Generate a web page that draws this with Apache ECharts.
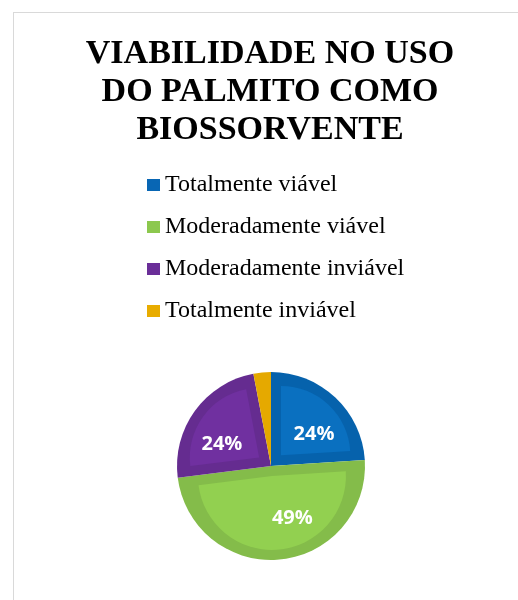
<!DOCTYPE html>
<html>
<head>
<meta charset="utf-8">
<script src="https://cdn.jsdelivr.net/npm/echarts@6/dist/echarts.min.js"></script>
<style>
html,body{margin:0;padding:0;background:#fff;overflow:hidden;}
#frame{position:absolute;left:13px;top:12px;width:520px;height:600px;border:1px solid #d9d9d9;box-sizing:border-box;}
#chart{position:absolute;left:0;top:0;width:540px;height:600px;}
</style>
</head>
<body>
<div id="frame"></div>
<div id="chart"></div>
<script>
// ---- data ----
var titleText = 'VIABILIDADE NO USO\nDO PALMITO COMO\nBIOSSORVENTE';
var categories = ['Totalmente viável', 'Moderadamente viável', 'Moderadamente inviável', 'Totalmente inviável'];
var values = [24, 49, 24, 3];
var showLabel = [true, true, true, false];

// ---- styles ----
var lightColors = ['#0A70C0', '#92D050', '#7030A0', '#F0B000'];
var darkColors  = ['#0662AC', '#84BC4A', '#652C90', '#E5A900'];
var legendColors = ['#0866B4', '#8CC84E', '#6A2E98', '#E8AC00'];
var labelOffsets = [[4, 10], [16, -4], [-3, 12], [0, 0]];
var CENTER = [271, 466];
var R = 94;
var BAND = 10;

var total = values.reduce(function (a, b) { return a + b; }, 0);
var chart = echarts.init(document.getElementById('chart'), null, {renderer: 'canvas'});

var series = [];
// dark base pie (bevel rim)
series.push({
  type: 'pie', name: 'rim', z: 1,
  center: CENTER, radius: R, startAngle: 90, clockwise: true,
  label: {show: false}, labelLine: {show: false},
  emphasis: {disabled: true}, silent: true,
  data: categories.map(function (c, i) {
    return {name: c, value: values[i], itemStyle: {color: darkColors[i]}};
  })
});
// inner lighter faces, one series per slice, inset via selected offset
categories.forEach(function (c, k) {
  var half = values[k] / total * Math.PI;
  var d = BAND / Math.sin(half);
  var r = R - BAND - d;
  if (r < 6) return;
  series.push({
    type: 'pie', name: 'face' + k, z: 2,
    center: CENTER, radius: r, startAngle: 90, clockwise: true,
    selectedMode: 'single', selectedOffset: d,
    label: {show: false}, labelLine: {show: false},
    emphasis: {disabled: true}, silent: true,
    select: {itemStyle: {color: lightColors[k]}},
    data: categories.map(function (cc, i) {
      return {
        name: cc, value: values[i], selected: i === k,
        itemStyle: {color: i === k ? lightColors[k] : 'rgba(0,0,0,0)'}
      };
    })
  });
});
// label layer
series.push({
  type: 'pie', name: 'labels', z: 3,
  center: CENTER, radius: [14, R], startAngle: 90, clockwise: true,
  emphasis: {disabled: true}, silent: true,
  labelLine: {show: false},
  data: categories.map(function (c, i) {
    return {
      name: c, value: values[i],
      itemStyle: {color: 'rgba(0,0,0,0)'},
      label: {show: showLabel[i], offset: labelOffsets[i]}
    };
  }),
  label: {
    position: 'inside',
    formatter: function (p) { return Math.round(p.percent) + '%'; },
    color: '#fff', fontFamily: 'Open Sans', fontWeight: 'bold', fontSize: 20
  }
});

chart.setOption({
  animation: false,
  backgroundColor: 'transparent',
  title: {
    text: titleText,
    left: 'center', top: 30,
    textStyle: {fontFamily: 'Liberation Serif', fontWeight: 'bold', fontSize: 34, lineHeight: 38, color: '#000'}
  },
  legend: {
    orient: 'vertical', left: 142, top: 168,
    icon: 'rect', itemWidth: 13, itemHeight: 12, itemGap: 18,
    selectedMode: false,
    textStyle: {fontFamily: 'Liberation Serif', fontSize: 24, lineHeight: 24, color: '#000'},
    data: categories.map(function (c, i) {
      return {name: c, itemStyle: {color: legendColors[i]}};
    })
  },
  series: series
});
</script>
</body>
</html>
